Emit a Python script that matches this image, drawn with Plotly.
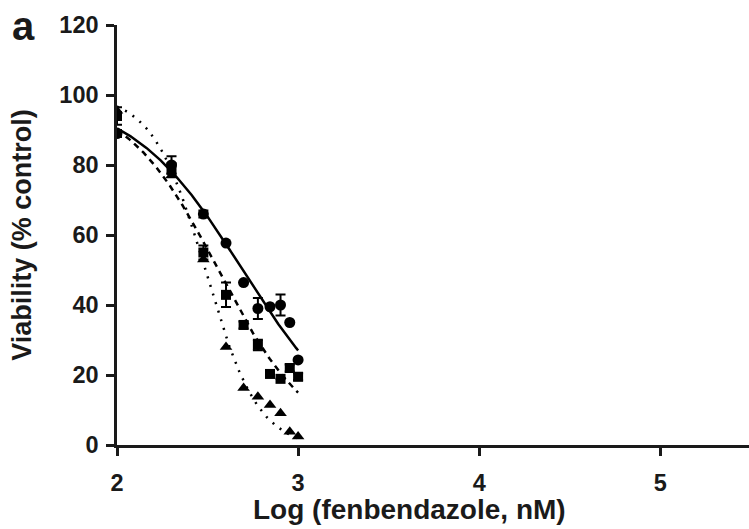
import numpy as np
import plotly.graph_objects as go

# Data (log10 of fenbendazole nM)
log_conc = [2.0, 2.301, 2.477, 2.602, 2.699, 2.778, 2.845, 2.903, 2.954, 3.0]
circles = [89.0, 80.0, 66.0, 57.7, 46.4, 39.0, 39.5, 40.0, 35.0, 24.3]
circles_err = [1.0, 2.5, 1.0, 0.0, 0.0, 3.0, 0.0, 3.0, 0.0, 0.0]
squares = [94.0, 79.0, 55.0, 42.9, 34.3, 28.6, 20.3, 18.9, 22.0, 19.5]
squares_err = [2.5, 1.5, 2.0, 3.5, 1.0, 1.5, 0.0, 0.0, 1.0, 1.0]
triangles = [95.5, 77.0, 53.0, 28.0, 16.3, 13.8, 11.4, 9.1, 3.8, 2.4]

# fitted dose-response parameters (top, bottom, logIC50, hill)
fit_circles = (100.0, 0.0, 2.694, 1.41)
fit_squares = (100.0, 0.0, 2.559, 1.71)
fit_triangles = (100.0, -1.0, 2.49, 3.0)

x_ticks = [2, 3, 4, 5]
y_ticks = [0, 20, 40, 60, 80, 100, 120]


def curve(params, xs):
    top, bottom, c, h = params
    xs = np.asarray(xs)
    return bottom + (top - bottom) / (1 + 10 ** ((xs - c) * h))


xs = np.linspace(min(log_conc), max(log_conc), 200)

fig = go.Figure()
fig.add_trace(go.Scatter(x=xs, y=curve(fit_circles, xs), mode="lines",
                         line=dict(color="black", width=2.5), showlegend=False))
fig.add_trace(go.Scatter(x=xs, y=curve(fit_squares, xs), mode="lines",
                         line=dict(color="black", width=2.5, dash="6px,5px"), showlegend=False))
fig.add_trace(go.Scatter(x=xs, y=curve(fit_triangles, xs), mode="lines",
                         line=dict(color="black", width=2.5, dash="2px,7px"), showlegend=False))

fig.add_trace(go.Scatter(x=log_conc, y=circles, mode="markers",
                         marker=dict(symbol="circle", size=11, color="black"),
                         error_y=dict(type="data", array=circles_err, color="black", thickness=2, width=5),
                         showlegend=False))
fig.add_trace(go.Scatter(x=log_conc, y=squares, mode="markers",
                         marker=dict(symbol="square", size=10, color="black"),
                         error_y=dict(type="data", array=squares_err, color="black", thickness=2, width=5),
                         showlegend=False))
fig.add_trace(go.Scatter(x=log_conc, y=triangles, mode="markers",
                         marker=dict(symbol="triangle-up", size=11, color="black"),
                         showlegend=False))

font = "Liberation Sans, Arial, sans-serif"
plot_w, plot_h = 632, 420
fig.update_layout(
    width=749, height=529,
    margin=dict(l=117, r=0, t=25, b=84),
    paper_bgcolor="white", plot_bgcolor="white",
    font=dict(family=font, color="#1a1a1a"),
    xaxis=dict(range=[2, 5.49], tickvals=x_ticks, ticktext=[f"<b>{v}</b>" for v in x_ticks],
               showgrid=False, zeroline=False, showline=True, linecolor="#1a1a1a", linewidth=2.5,
               ticks="outside", ticklen=8, tickwidth=2.5, tickcolor="#1a1a1a",
               tickfont=dict(size=23.5), ticklabelstandoff=7),
    yaxis=dict(range=[0, 120], tickvals=y_ticks, ticktext=[f"<b>{v}</b>" for v in y_ticks],
               showgrid=False, zeroline=False, showline=True, linecolor="#1a1a1a", linewidth=2.5,
               ticks="outside", ticklen=8, tickwidth=2.5, tickcolor="#1a1a1a",
               tickfont=dict(size=23.5), ticklabelstandoff=3,
               title=dict(text="<b>Viability (% control)</b>", font=dict(size=27), standoff=20)),
    annotations=[
        dict(text="<b>a</b>", xref="paper", yref="paper",
             x=(10 - 117) / plot_w, y=1 + (25 - 2) / plot_h, xanchor="left", yanchor="top",
             showarrow=False, font=dict(size=40, family=font, color="#1a1a1a")),
        dict(text="<b>Log (fenbendazole, nM)</b>", xref="paper", yref="paper",
             x=(409 - 117) / plot_w, y=-(510 - 445) / plot_h, xanchor="center", yanchor="middle",
             showarrow=False, font=dict(size=28, family=font, color="#1a1a1a")),
    ],
)

fig.write_html("out.html")
